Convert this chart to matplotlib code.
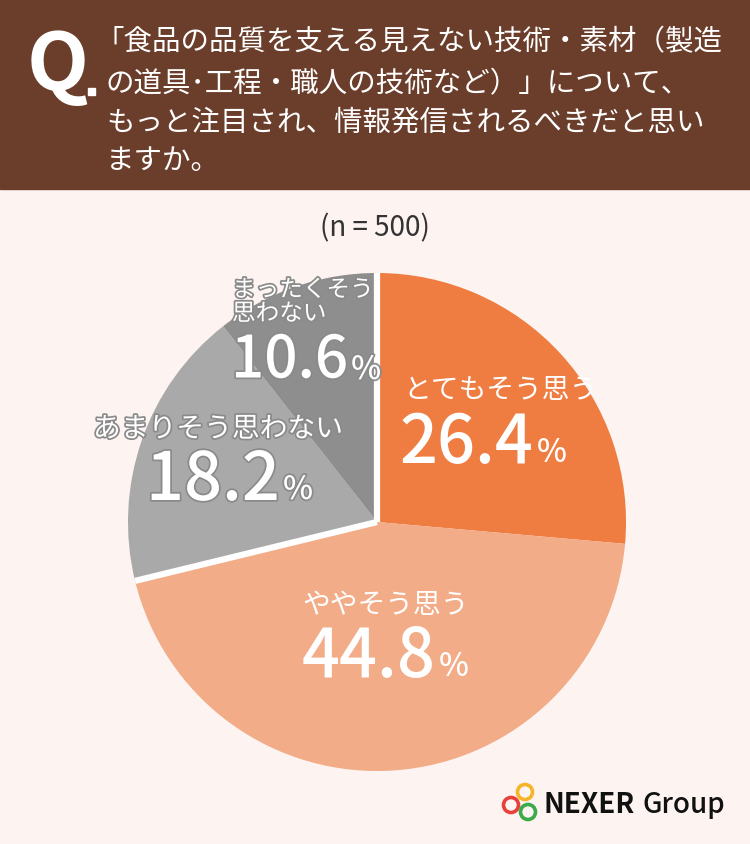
import matplotlib
matplotlib.use("Agg")
import matplotlib.pyplot as plt
import matplotlib.patheffects as pe
import numpy as np

plt.rcParams['font.family'] = ['Noto Sans CJK JP', 'DejaVu Sans']

# data
labels = ['とてもそう思う', 'ややそう思う', 'あまりそう思わない', 'まったくそう\n思わない']
values = [26.4, 44.8, 18.2, 10.6]
colors = ['#EF7D41', '#F2AC88', '#A9A9A9', '#8E8E8E']
question = ['「食品の品質を支える見えない技術・素材（製造',
            'の道具･工程・職人の技術など）」について、',
            'もっと注目され、情報発信されるべきだと思い',
            'ますか。']
n_text = '(n = 500)'

W, H = 750, 845
fig = plt.figure(figsize=(W / 100, H / 100), dpi=100)
fig.patch.set_facecolor('#FDF4F1')

# background / header in pixel coords
bg = fig.add_axes([0, 0, 1, 1], zorder=0)
bg.set_xlim(0, W)
bg.set_ylim(H, 0)
bg.axis('off')
bg.add_patch(plt.Rectangle((0, 0), W, 190, color='#6B3E2B', zorder=0))

# pie
cx, cy, r = 377, 523, 254
pie_ax = fig.add_axes([(cx - r) / W, (H - cy - r) / H, 2 * r / W, 2 * r / H],
                      zorder=1)
wedges, _ = pie_ax.pie(values, colors=colors, startangle=90, counterclock=False,
                       radius=1, wedgeprops=dict(linewidth=0))
pie_ax.set_xlim(-1.02, 1.02)
pie_ax.set_ylim(-1.02, 1.02)
pie_ax.set_aspect('equal')
pie_ax.axis('off')

# white separators between orange and gray groups
cum = np.cumsum([0] + values)
for frac in [cum[0], cum[2]]:
    ang = np.deg2rad(90 - frac / 100 * 360)
    pie_ax.plot([0, np.cos(ang)], [0, np.sin(ang)],
                color='white', lw=4.5, solid_capstyle='butt')

# text overlay on top
ov = fig.add_axes([0, 0, 1, 1], zorder=2)
ov.set_xlim(0, W)
ov.set_ylim(H, 0)
ov.axis('off')
ov.patch.set_alpha(0)

ov.text(27, 66, 'Q', color='white', fontsize=58, fontweight='bold',
        va='center', ha='left')
ov.add_patch(plt.Rectangle((88, 89), 7, 7, color='white'))
line_y = [42, 84, 123, 161]
line_x = [95, 106, 106, 106]
for x, y, s in zip(line_x, line_y, question):
    ov.text(x, y, s, color='white', fontsize=20.5, va='center', ha='left')

ov.text(375, 228, n_text, color='#333333', fontsize=20, va='center', ha='center')

outline = [pe.withStroke(linewidth=2.5, foreground='#8A8A8A')]


def pct(x, y, val, big=48, outlined=False):
    eff = outline if outlined else None
    t = ov.text(x, y, f'{val}', color='white', fontsize=big, fontweight='medium',
                va='center', ha='left', path_effects=eff)
    fig.canvas.draw()
    x2 = t.get_window_extent().x1
    xe, _ = ov.transData.inverted().transform((x2, 0))
    ov.text(xe + 3, y + 9, '%', color='white', fontsize=23, fontweight='medium',
            va='center', ha='left', path_effects=eff)


ov.text(403, 390, labels[0], color='white', fontsize=20, va='center', ha='left')
pct(400, 444, values[0])
ov.text(302, 605, labels[1], color='white', fontsize=20, va='center', ha='left')
pct(302, 658, values[1])
ov.text(93, 430, labels[2], color='white', fontsize=20, va='center', ha='left',
        path_effects=outline)
pct(146, 482, values[2], outlined=True)
ov.text(232, 303, labels[3], color='white', fontsize=17, va='center', ha='left',
        path_effects=outline, linespacing=1.05)
pct(231, 362, values[3], big=42, outlined=True)

# logo
for (x, y), c in zip([(511, 806), (525, 793), (528, 813)],
                     ['#E8403A', '#F5B52A', '#3AAA4A']):
    ov.add_patch(plt.Circle((x, y), 7.5, fill=False, lw=2.6, ec=c))
ov.text(543, 805, 'NEXER', color='#111111', fontsize=20, fontweight='bold',
        va='center', ha='left')
ov.text(643, 805, 'Group', color='#111111', fontsize=20, fontweight='medium',
        va='center', ha='left')

fig.savefig('out.png', dpi=100, facecolor=fig.get_facecolor())
